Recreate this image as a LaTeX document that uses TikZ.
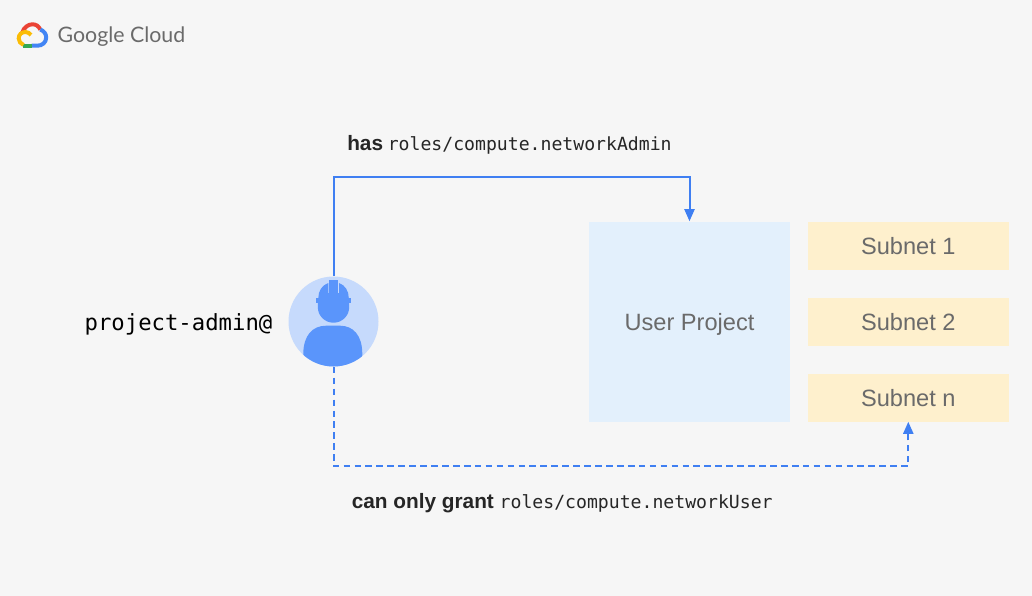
\documentclass[tikz,border=0pt]{standalone}
\usepackage{fontspec}
\setmainfont{Liberation Sans}
\setmonofont{DejaVu Sans Mono}
\newfontfamily\logofont{Lato}
\usepackage{xcolor}
\usetikzlibrary{arrows.meta}
\definecolor{pagebg}{HTML}{F6F6F6}
\definecolor{flowblue}{HTML}{3F7FF2}
\definecolor{projectfill}{HTML}{E3F0FC}
\definecolor{subnetfill}{HTML}{FEF0CD}
\definecolor{labelgrey}{HTML}{6A6A6A}
\definecolor{avatarlight}{HTML}{C6DAFC}
\definecolor{avatardark}{HTML}{5A95FB}
\definecolor{logored}{HTML}{EA4335}
\definecolor{logoblue}{HTML}{4285F4}
\definecolor{logogreen}{HTML}{34A853}
\definecolor{logoyellow}{HTML}{FBBC05}
\tikzset{
  flowline/.style={draw=flowblue,line width=1.5pt,-{Triangle[length=9pt,width=7.5pt]}},
  grantline/.style={flowline,dash pattern=on 5pt off 3.2pt},
  subnetbox/.style={fill=subnetfill,minimum width=150.5pt,minimum height=36pt,inner sep=0pt,text height=14pt,text depth=0pt,text=labelgrey,font=\fontsize{17.7}{20}\selectfont},
  boldlabel/.style={inner sep=0.75pt,text=black!85,font=\fontsize{15.6}{18}\selectfont},
  logostroke/.style={line width=3pt}
}
\begin{document}
\begin{tikzpicture}[x=0.75pt,y=0.75pt,yscale=-1,xscale=1]
\fill[pagebg] (0,0) rectangle (1032,596);
\useasboundingbox (0,0) rectangle (1032,596);

%Logo
\draw[logostroke,logored] (22,33) .. controls (24,27) and (28.5,24.3) .. (32.5,24.3) .. controls (36,24.3) and (38.5,26) .. (40.3,29.5);
\draw[logostroke,logoblue] (40.3,29.5) .. controls (44,31) and (46.2,34) .. (46.2,37.5) .. controls (46.2,42.5) and (42,45.7) .. (37.5,45.7) -- (31.7,45.7);
\draw[logostroke,logogreen] (31.7,45.7) -- (23,45.7);
\draw[logostroke,logoyellow] (23.5,45) .. controls (20.5,44) and (18.7,41) .. (18.7,38.5) .. controls (18.7,34.5) and (21.5,32) .. (25.5,32) .. controls (27.5,32) and (29.5,33) .. (31,35);
\node (logotext) at (121.5,37) [inner sep=0pt,text=labelgrey,font=\logofont\fontsize{16}{20}\selectfont] {Google Cloud};

%Boxes
\node (userproject) at (689.5,321.5) [fill=projectfill,minimum width=150.5pt,minimum height=150pt,inner sep=0pt,text depth=0pt,text=labelgrey,font=\fontsize{17.7}{20}\selectfont] {User Project};
\node (subnetone) at (908.3,245.5) [subnetbox] {Subnet 1};
\node (subnettwo) at (908.3,321.5) [subnetbox] {Subnet 2};
\node (subnetn) at (908.3,397.5) [subnetbox] {Subnet n};

%Avatar
\node (admin) at (333.5,321.5) [circle,fill=avatarlight,minimum size=67.5pt,inner sep=0pt] {};
\begin{scope}
\clip (333.5,321.5) circle (45);
\fill[avatardark] (303.3,367) -- (303.3,354) .. controls (303.3,335) and (313,325.7) .. (326,325.7) -- (340,325.7) .. controls (353,325.7) and (362.3,335) .. (362.3,354) -- (362.3,367) -- cycle;
\end{scope}
\fill[avatardark] (317.8,302) -- (317.8,307) .. controls (317.8,316) and (325,322.7) .. (333.5,322.7) .. controls (342,322.7) and (349.2,316) .. (349.2,307) -- (349.2,302) -- cycle;
\fill[avatardark] (316,298) rectangle (350.7,302.7);
\fill[avatardark] (318.3,298) .. controls (318.3,291) and (322,285) .. (328.4,283) -- (328.4,293) -- (339,293) -- (339,283) .. controls (345,285) and (348.8,291) .. (348.8,298) -- cycle;
\fill[avatardark] (329.3,280) rectangle (338,294);

%Connectors
\coordinate (roleturn) at (333.5,177);
\coordinate (grantturn) at (333.5,466);
\draw[flowline] (admin) -- (roleturn) -| (userproject);
\draw[grantline] (admin) -- (grantturn) -| (subnetn);

% Text Node
\node (adminlabel) at (178.5,324) [inner sep=0pt,font=\ttfamily\fontsize{16.7}{20}\selectfont] {project-admin@};
% Text Node
\node (hasrole) at (346,145) [anchor=west,boldlabel] {\textbf{has}\hspace{-0.8pt} {\ttfamily\fontsize{13.6}{18}\selectfont roles/compute.networkAdmin}};
% Text Node
\node (grantrole) at (350.5,503) [anchor=west,boldlabel] {\textbf{can only grant} {\ttfamily\fontsize{13.6}{18}\selectfont roles/compute.networkUser}};
\end{tikzpicture}
\end{document}
